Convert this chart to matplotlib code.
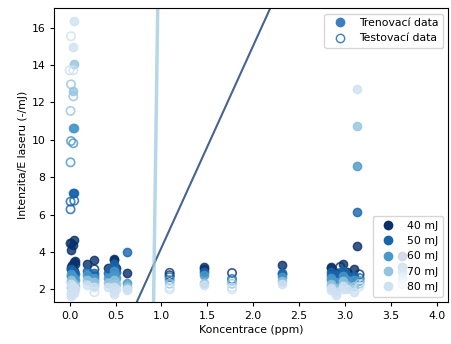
import numpy as np
import matplotlib.pyplot as plt
from matplotlib.lines import Line2D

plt.rcParams['font.size'] = 7.8
plt.rcParams['xtick.major.size'] = 2.8
plt.rcParams['ytick.major.size'] = 2.8

# energie laseru a barvy
energies = ['40 mJ', '50 mJ', '60 mJ', '70 mJ', '80 mJ']
colors = ['#08306b', '#1764ab', '#4a98c9', '#94c4df', '#cfe1f2']

# trenovaci data (koncentrace, intenzita/E) pro kazdou energii
train_x_40 = [0.02, 0.03, 0.05, 0.06, 0.02, 0.05, 0.05, 0.02, 0.04, 0.05, 0.02, 0.06,
              0.19, 0.27, 0.42, 0.48, 0.48, 0.50, 0.63, 1.46, 1.46, 2.31, 2.85, 2.85,
              2.90, 2.98, 3.02, 3.10, 3.13, 3.62]
train_y_40 = [3.20, 3.30, 3.45, 3.50, 3.10, 3.00, 2.90, 4.10, 4.37, 4.64, 4.46, 3.35,
              3.34, 3.57, 3.13, 3.64, 3.55, 3.15, 2.85, 3.20, 3.10, 3.30, 3.22, 3.15,
              2.85, 3.38, 2.95, 3.08, 4.33, 3.80]
train_x_50 = [0.02, 0.03, 0.05, 0.06, 0.02, 0.05, 0.04, 0.05,
              0.19, 0.27, 0.42, 0.48, 0.48, 0.50, 0.63, 1.46, 2.31, 2.31, 2.85, 2.85,
              2.90, 2.98, 2.98, 3.02, 3.10, 3.10, 3.13, 3.62]
train_y_50 = [3.10, 3.00, 2.90, 2.80, 2.70, 2.60, 7.17, 7.13,
              3.00, 2.85, 2.85, 3.35, 3.20, 2.90, 3.99, 2.95, 2.85, 2.80, 2.90, 2.75,
              2.60, 3.00, 2.90, 2.70, 2.70, 2.60, 6.12, 3.20]
train_x_60 = [0.02, 0.03, 0.05, 0.06, 0.02, 0.04, 0.05,
              0.19, 0.27, 0.42, 0.48, 0.48, 0.50, 0.63, 1.46, 2.31, 2.85, 2.85,
              2.90, 2.98, 3.02, 3.10, 3.13, 3.62]
train_y_60 = [2.80, 2.70, 2.60, 2.50, 2.40, 10.65, 10.65,
              2.75, 2.60, 2.60, 3.00, 2.75, 2.60, 2.35, 2.75, 2.65, 2.60, 2.50,
              2.40, 2.70, 2.50, 2.50, 8.60, 2.90]
train_x_70 = [0.02, 0.03, 0.05, 0.06, 0.02, 0.05, 0.04,
              0.19, 0.27, 0.42, 0.48, 0.48, 0.50, 0.63, 1.46, 2.31, 2.85, 2.85,
              2.90, 2.98, 3.02, 3.10, 3.13, 3.62]
train_y_70 = [2.50, 2.40, 2.30, 2.20, 2.10, 14.03, 12.60,
              2.50, 2.40, 2.35, 2.50, 2.30, 2.30, 2.10, 2.35, 2.45, 2.30, 2.20,
              2.00, 2.45, 2.20, 2.20, 10.72, 2.60]
train_x_80 = [0.02, 0.03, 0.05, 0.06, 0.02, 0.05, 0.02, 0.05, 0.04,
              0.19, 0.27, 0.42, 0.48, 0.48, 0.48, 0.50, 0.63, 0.63, 1.46, 2.31,
              2.85, 2.85, 2.90, 2.90, 2.98, 2.98, 3.02, 3.10, 3.13, 3.62]
train_y_80 = [2.30, 2.20, 2.10, 2.00, 1.90, 1.80, 1.65, 16.33, 14.94,
              2.25, 2.15, 2.15, 2.10, 1.90, 1.75, 2.00, 2.00, 1.95, 2.25, 2.30,
              2.05, 1.95, 1.85, 1.70, 2.20, 2.00, 2.00, 1.85, 12.70, 2.30]

# testovaci data
test_x_40 = [0.01, 0.27, 1.09, 1.09, 1.77, 2.95, 3.16]
test_y_40 = [4.45, 3.07, 2.88, 2.75, 2.87, 3.20, 2.80]
test_x_50 = [0.05, 0.01, 0.01, 0.27, 1.09, 1.77, 2.96, 3.16]
test_y_50 = [6.74, 6.69, 6.28, 2.70, 2.65, 2.55, 2.90, 2.60]
test_x_60 = [0.015, 0.04, 0.01, 0.27, 1.09, 1.77, 3.16]
test_y_60 = [9.93, 9.81, 8.79, 2.45, 2.50, 2.45, 2.45]
test_x_70 = [0.015, 0.04, 0.01, 0.27, 1.09, 1.77, 3.16]
test_y_70 = [12.96, 12.32, 11.54, 2.20, 2.30, 2.30, 2.30]
test_x_80 = [0.015, 0.0, 0.04, 0.02, 0.27, 1.09, 1.09, 1.77, 1.77, 3.16]
test_y_80 = [15.53, 13.71, 13.71, 1.75, 1.85, 2.10, 2.00, 2.10, 2.00, 2.15]

train_x = [train_x_40, train_x_50, train_x_60, train_x_70, train_x_80]
train_y = [train_y_40, train_y_50, train_y_60, train_y_70, train_y_80]
test_x = [test_x_40, test_x_50, test_x_60, test_x_70, test_x_80]
test_y = [test_y_40, test_y_50, test_y_60, test_y_70, test_y_80]

# kalibracni primky (smernice, posun)
line_slopes = [10.8, 350.0]
line_intercepts = [-6.58, -318.95]
line_colors = ['#08306b', '#9ecae1']

fig = plt.figure(figsize=(4.51, 3.44), dpi=100)
ax = fig.add_axes([0.1204, 0.122, 0.8736, 0.854])

for i in range(len(energies)):
    ax.scatter(train_x[i], train_y[i], color=colors[i], alpha=0.8, s=36)
    ax.scatter(test_x[i], test_y[i], facecolors='none', edgecolors=colors[i],
               alpha=0.8, s=36, linewidths=1.2)

xx = np.array([0.0, 4.0])
for k, c in zip(range(len(line_slopes)), line_colors):
    lw = 1.5 if k == 0 else 2.5
    ax.plot(xx, line_slopes[k] * xx + line_intercepts[k], color=c, alpha=0.75, lw=lw)

ax.set_xlim(-0.167, 4.127)
ax.set_ylim(1.32, 17.03)
ax.set_yticks([2, 4, 6, 8, 10, 12, 14, 16])
ax.set_xlabel('Koncentrace (ppm)', labelpad=3)
ax.set_ylabel('Intenzita/E laseru (-/mJ)', labelpad=3)

h1 = [Line2D([], [], marker='o', ls='none', color='#3b7fc0', markersize=6),
      Line2D([], [], marker='o', ls='none', markerfacecolor='none',
             markeredgecolor='#3b7fc0', markersize=6)]
leg1 = ax.legend(h1, ['Trenovací data', 'Testovací data'], loc='upper right')
ax.add_artist(leg1)

h2 = [Line2D([], [], marker='o', ls='none', color=c, markersize=6) for c in colors]
ax.legend(h2, energies, loc='lower right')

fig.savefig('out.png', dpi=100)
